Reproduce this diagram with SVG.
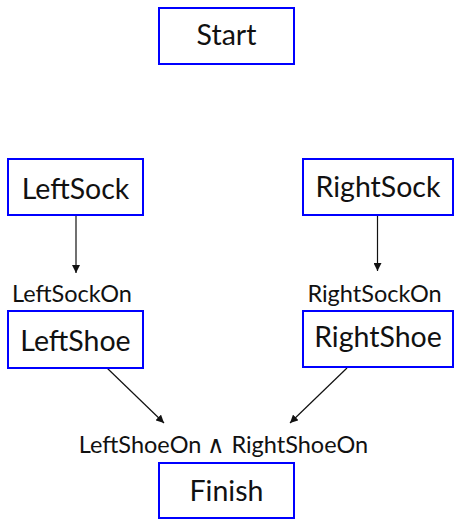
<svg xmlns="http://www.w3.org/2000/svg" width="454" height="519" viewBox="0 0 454 519">
  <style>
    .box { fill: #ffffff; stroke: #0000ff; stroke-width: 2; }
    .lbl { font-family: Lato, "Open Sans", sans-serif; font-size: 28.5px; fill: #111111; text-anchor: middle; }
    .cond { font-family: Lato, "Open Sans", sans-serif; font-size: 23.5px; fill: #111111; text-anchor: middle; }
    .edge { stroke: #111111; stroke-width: 1.2; fill: none; marker-end: url(#arrow); }
  </style>
  <defs>
    <marker id="arrow" viewBox="0 0 10 10" refX="10" refY="5" markerWidth="8" markerHeight="8" markerUnits="userSpaceOnUse" orient="auto">
      <path d="M0,0 L10,5 L0,10 z" fill="#111111"/>
    </marker>
  </defs>
  <rect width="454" height="519" fill="#ffffff"/>

  <g id="connectors">
    <line class="edge" x1="76" y1="216" x2="76" y2="273"/>
    <line class="edge" x1="377.5" y1="216" x2="377.5" y2="271"/>
    <line class="edge" x1="107" y1="368" x2="164" y2="423"/>
    <line class="edge" x1="347" y1="368" x2="290" y2="423"/>
    <text class="cond" x="72" y="302">LeftSockOn</text>
    <text class="cond" x="374.5" y="302">RightSockOn</text>
    <text class="cond" x="223.5" y="453">LeftShoeOn ∧ RightShoeOn</text>
  </g>

  <g id="start">
    <rect class="box" x="159" y="8" width="135" height="56"/>
    <text class="lbl" x="226.5" y="45">Start</text>
  </g>
  <g id="leftsock">
    <rect class="box" x="8" y="159" width="135" height="56"/>
    <text class="lbl" x="75.5" y="199">LeftSock</text>
  </g>
  <g id="rightsock">
    <rect class="box" x="303" y="159" width="150" height="56"/>
    <text class="lbl" x="378" y="197">RightSock</text>
  </g>
  <g id="leftshoe">
    <rect class="box" x="8" y="311" width="135" height="57"/>
    <text class="lbl" x="75.5" y="351">LeftShoe</text>
  </g>
  <g id="rightshoe">
    <rect class="box" x="303" y="311" width="150" height="56"/>
    <text class="lbl" x="378" y="347">RightShoe</text>
  </g>
  <g id="finish">
    <rect class="box" x="159" y="463" width="135" height="55"/>
    <text class="lbl" x="226.5" y="501">Finish</text>
  </g>
</svg>
